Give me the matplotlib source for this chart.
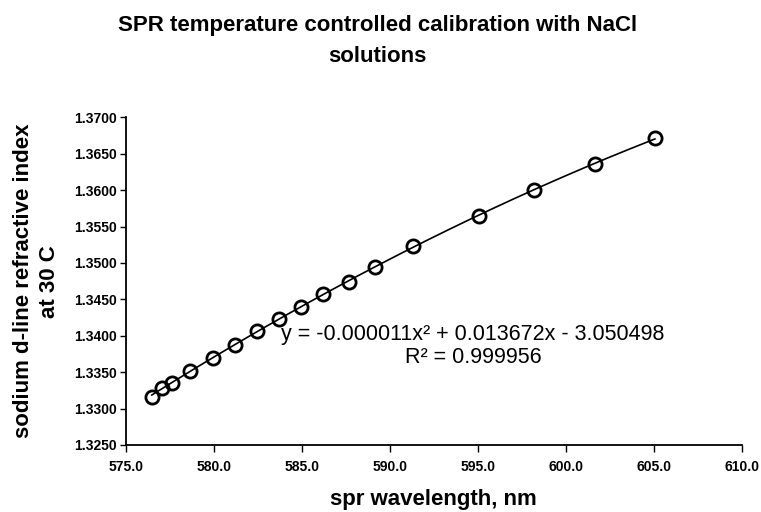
import numpy as np
import matplotlib
matplotlib.use('Agg')
import matplotlib.pyplot as plt

plt.rcParams['font.family'] = ['Liberation Sans', 'DejaVu Sans']

# spr wavelength (nm) and refractive index
wavelength = [576.46, 577.02, 577.59, 578.63, 579.92, 581.19, 582.42, 583.71,
              584.93, 586.21, 587.67, 589.15, 591.33, 595.06, 598.21, 601.66,
              605.07]
ref_index = [1.3316, 1.3328, 1.3335, 1.3352, 1.3370, 1.3388, 1.3407, 1.3423,
             1.3440, 1.3458, 1.3474, 1.3495, 1.3523, 1.3564, 1.3600, 1.3636,
             1.3672]
x_ticks = [575.0, 580.0, 585.0, 590.0, 595.0, 600.0, 605.0, 610.0]
y_ticks = [1.3250, 1.3300, 1.3350, 1.3400, 1.3450, 1.3500, 1.3550, 1.3600,
           1.3650, 1.3700]
eq_text = 'y = -0.000011x² + 0.013672x - 3.050498'
r2_text = 'R² = 0.999956'

fig = plt.figure(figsize=(7.61, 5.12), dpi=100)
ax = fig.add_axes([0.1657, 0.1309, 0.8088, 0.6398])

# polynomial trendline through the points
coef = np.polyfit(wavelength, ref_index, 2)
xs = np.linspace(min(wavelength), max(wavelength), 200)
ax.plot(xs, np.polyval(coef, xs), color='black', lw=1.2, zorder=2)
ax.plot(wavelength, ref_index, 'o', mfc='none', mec='black', ms=9.5, mew=2,
        zorder=3)

ax.set_xlim(575, 610)
ax.set_ylim(1.3250, 1.3700)
ax.set_xticks(x_ticks)
ax.set_yticks(y_ticks)
ax.set_xticklabels(['%.1f' % v for v in x_ticks], fontsize=10, fontweight='bold')
ax.set_yticklabels(['%.4f' % v for v in y_ticks], fontsize=10, fontweight='bold')
ax.spines['top'].set_visible(False)
ax.spines['right'].set_visible(False)
ax.spines['left'].set_linewidth(1.3)
ax.spines['bottom'].set_linewidth(1.3)
ax.tick_params(axis='x', direction='out', length=5, width=1, pad=6)
ax.tick_params(axis='y', direction='out', length=4, width=1, pad=3)

xl = ax.set_xlabel('spr wavelength, nm', fontsize=16, fontweight='bold')
xl.set_va('center')
ax.xaxis.set_label_coords(0.5, -0.165)
yl = ax.set_ylabel('sodium d-line refractive index\nat 30 C', fontsize=16,
                   fontweight='bold', linespacing=1.3)
yl.set_va('center')
ax.yaxis.set_label_coords(-0.145, 0.5)

fig.text(0.496, 0.92, 'SPR temperature controlled calibration with NaCl\nsolutions',
         ha='center', va='center', fontsize=16, fontweight='bold', linespacing=1.6)

ax.text(0.5636, 0.336, eq_text, transform=ax.transAxes, ha='center', va='center',
        fontsize=15.5)
ax.text(0.5636, 0.2656, r2_text, transform=ax.transAxes, ha='center', va='center',
        fontsize=15.5)

fig.savefig('out.png', dpi=100)
